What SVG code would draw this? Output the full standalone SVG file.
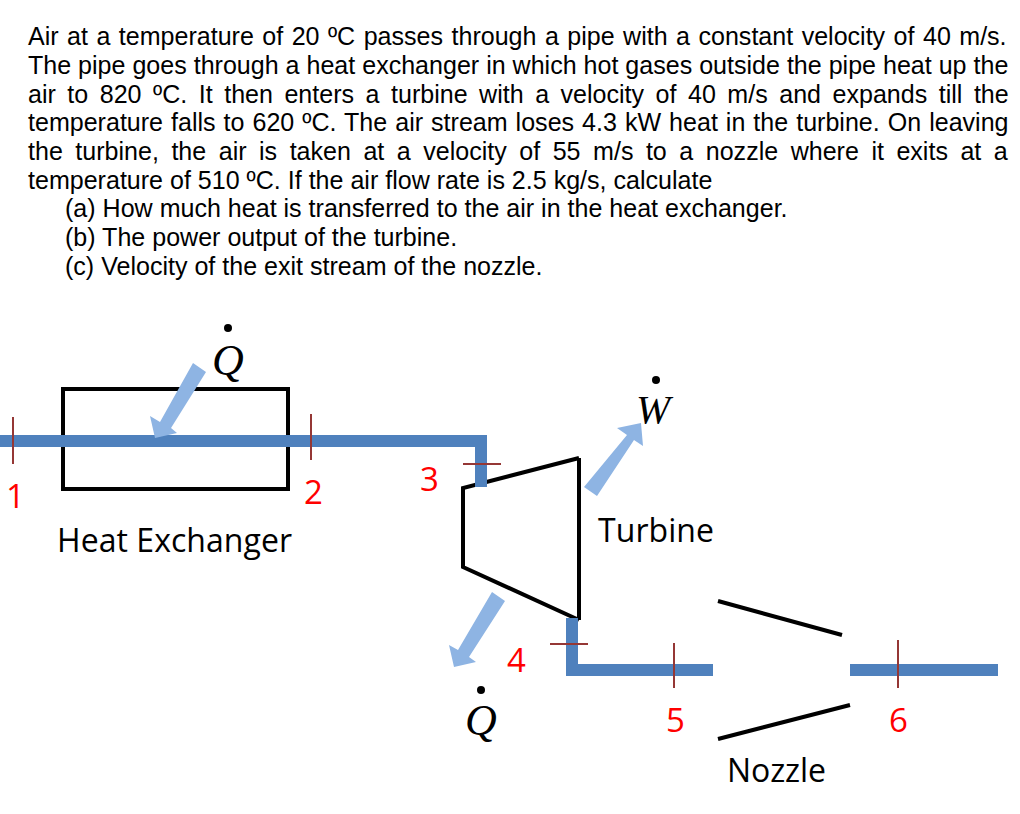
<svg xmlns="http://www.w3.org/2000/svg" width="1020" height="814" viewBox="0 0 1020 814">
<style>
.t{font-family:"Liberation Sans",Arial,sans-serif;font-size:25.06px;fill:#000}
.l{font-family:"Open Sans","Noto Sans",sans-serif;font-size:32px;fill:#000}
.n{font-family:"Open Sans","Noto Sans",sans-serif;font-size:33px;fill:#f00}
.v{font-family:"Liberation Serif",serif;font-style:italic;font-size:44px;fill:#000}
.pipe{fill:none;stroke:#4f81bd;stroke-width:12}
.blk{fill:none;stroke:#000;stroke-width:4}
.tick{stroke:#953735;stroke-width:2;fill:none}
.arr{fill:#8eb4e3}
</style>
<g id="problem-text">
<text class="t" x="28" y="45" word-spacing="1.5">Air at a temperature of 20 ºC passes through a pipe with a constant velocity of 40 m/s.</text>
<text class="t" x="28" y="74">The pipe goes through a heat exchanger in which hot gases outside the pipe heat up the</text>
<text class="t" x="28" y="103" word-spacing="4.55">air to 820 ºC. It then enters a turbine with a velocity of 40 m/s and expands till the</text>
<text class="t" x="28" y="131" word-spacing="1.05">temperature falls to 620 ºC. The air stream loses 4.3 kW heat in the turbine. On leaving</text>
<text class="t" x="28" y="160" word-spacing="5.55">the turbine, the air is taken at a velocity of 55 m/s to a nozzle where it exits at a</text>
<text class="t" x="28" y="189">temperature of 510 ºC. If the air flow rate is 2.5 kg/s, calculate</text>
<text class="t" x="65" y="217">(a) How much heat is transferred to the air in the heat exchanger.</text>
<text class="t" x="65" y="246">(b) The power output of the turbine.</text>
<text class="t" x="65" y="275">(c) Velocity of the exit stream of the nozzle.</text>
</g>
<g id="heat-exchanger">
<rect class="blk" x="63" y="389" width="225" height="100"/>
<text class="l" x="57" y="552" textLength="235">Heat Exchanger</text>
</g>
<g id="turbine">
<path class="blk" d="M579 458V620M579 458L463 488V567L579 620"/>
<text class="l" x="598" y="542" textLength="116">Turbine</text>
</g>
<g id="nozzle">
<path class="blk" d="M718 601L842 635M718 739L850 705"/>
<text class="l" x="727" y="782" textLength="99">Nozzle</text>
</g>
<g id="connectors">
<path class="pipe" d="M0 441H481V487"/>
<path class="pipe" d="M572 618V670H713"/>
<path class="pipe" d="M850 670H998"/>
<path class="tick" d="M13 417V464M311 414V460M463 464H501M550 644H588M674 643V688M898 640V688"/>
</g>
<g id="heat-in">
<path class="arr" d="M193 363L206 372L171 428L177 433L155 438L150 416L160 422Z"/>
<text class="v" x="212" y="375">Q</text><circle cx="228" cy="328" r="4"/>
</g>
<g id="work-out">
<path class="arr" d="M584 487L597 496L634 440L643 446L641 423L617 428L627 435Z"/>
<text class="v" x="636" y="423" font-size="41" style="font-size:41px">W</text><circle cx="656" cy="380" r="4"/>
</g>
<g id="heat-out">
<path class="arr" d="M492 592L505 601L469 657L476 662L454 667L449 645L458 650Z"/>
<text class="v" x="465" y="735">Q</text><circle cx="481" cy="690" r="4"/>
</g>
<g id="labels">
<text class="n" x="6" y="508">1</text>
<text class="n" x="304" y="504">2</text>
<text class="n" x="420" y="491">3</text>
<text class="n" x="507" y="672">4</text>
<text class="n" x="666" y="732">5</text>
<text class="n" x="889" y="732">6</text>
</g>
</svg>
